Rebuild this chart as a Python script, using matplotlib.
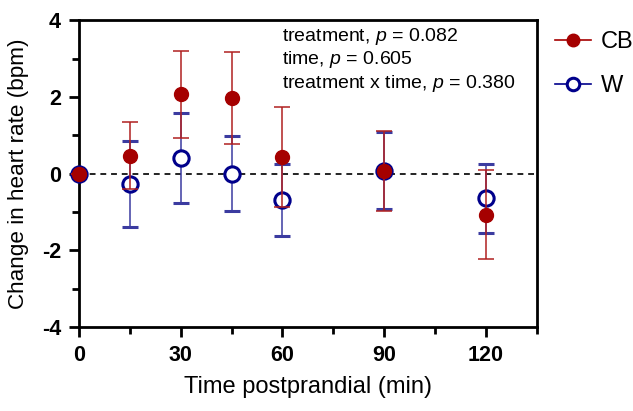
import matplotlib.pyplot as plt
from matplotlib.ticker import MultipleLocator
from matplotlib.lines import Line2D

plt.rcParams['font.family'] = ['Liberation Sans', 'DejaVu Sans']
plt.rcParams['mathtext.fontset'] = 'custom'
plt.rcParams['mathtext.it'] = 'Liberation Sans:italic'

# time points (min)
time = [0, 15, 30, 45, 60, 90, 120]
# CB group mean and error
cb_mean = [0.0, 0.47, 2.07, 1.97, 0.43, 0.07, -1.07]
cb_err = [0.0, 0.88, 1.13, 1.19, 1.30, 1.05, 1.16]
# W group mean and error
w_mean = [0.0, -0.26, 0.40, 0.0, -0.68, 0.08, -0.64]
w_err = [0.0, 1.12, 1.17, 0.98, 0.94, 1.0, 0.90]

stats_text = ['treatment, $p$ = 0.082',
              'time, $p$ = 0.605',
              'treatment x time, $p$ = 0.380']

red = '#a50000'
blue = '#00008b'

fig = plt.figure(figsize=(6.33, 4.11), dpi=100)
ax = fig.add_axes([0.1248, 0.204, 0.7232, 0.747])

ax.axhline(0, color='#222222', linestyle=(0, (3, 2.5)), linewidth=1.4, zorder=1)

ax.errorbar(time, w_mean, yerr=w_err, color=blue, ecolor='#3b3ba0', elinewidth=1.1,
            capsize=6, capthick=1.1, marker='o', markersize=11, markerfacecolor='white',
            markeredgecolor=blue, markeredgewidth=2.2, linestyle='none', label='W',
            zorder=3, clip_on=False)
ax.errorbar(time, cb_mean, yerr=cb_err, color=red, ecolor='#b02020', elinewidth=1.1,
            capsize=6, capthick=1.1, marker='o', markersize=10, markerfacecolor=red,
            markeredgecolor=red, linestyle='none', label='CB', zorder=4, clip_on=False)

ax.set_xlim(0, 135)
ax.set_ylim(-4, 4)
ax.xaxis.set_major_locator(MultipleLocator(30))
ax.xaxis.set_minor_locator(MultipleLocator(15))
ax.yaxis.set_minor_locator(MultipleLocator(1))
ax.set_yticks([-4, -2, 0, 2, 4])
ax.set_yticklabels(['-4', '-2', '0', '2', '4'])

for s in ax.spines.values():
    s.set_linewidth(2)
ax.tick_params(which='both', width=2, direction='out')
ax.tick_params(which='major', length=7, labelsize=15.5, pad=6)
ax.tick_params(which='minor', length=5)
for lab in ax.get_xticklabels() + ax.get_yticklabels():
    lab.set_fontweight('bold')

ax.set_xlabel('Time postprandial (min)', fontsize=17, labelpad=7)
ax.set_ylabel('Change in heart rate (bpm)', fontsize=16.2, labelpad=9)

for i, t in enumerate(stats_text):
    ax.text(0.444, 0.982 - i * 0.077, t, transform=ax.transAxes, fontsize=14,
            va='top', ha='left')

handles = [Line2D([], [], color=red, marker='o', markersize=9, markerfacecolor=red,
                  linewidth=1.2),
           Line2D([], [], color=blue, marker='o', markersize=9, markerfacecolor='white',
                  markeredgewidth=2.2, linewidth=1.2)]
fig.legend(handles, ['CB', 'W'], loc='upper left', bbox_to_anchor=(0.877, 0.925),
           frameon=False, fontsize=17, handlelength=1.5, labelspacing=0.95,
           handletextpad=0.45, borderpad=0, borderaxespad=0)

fig.savefig('out.png', dpi=100)
